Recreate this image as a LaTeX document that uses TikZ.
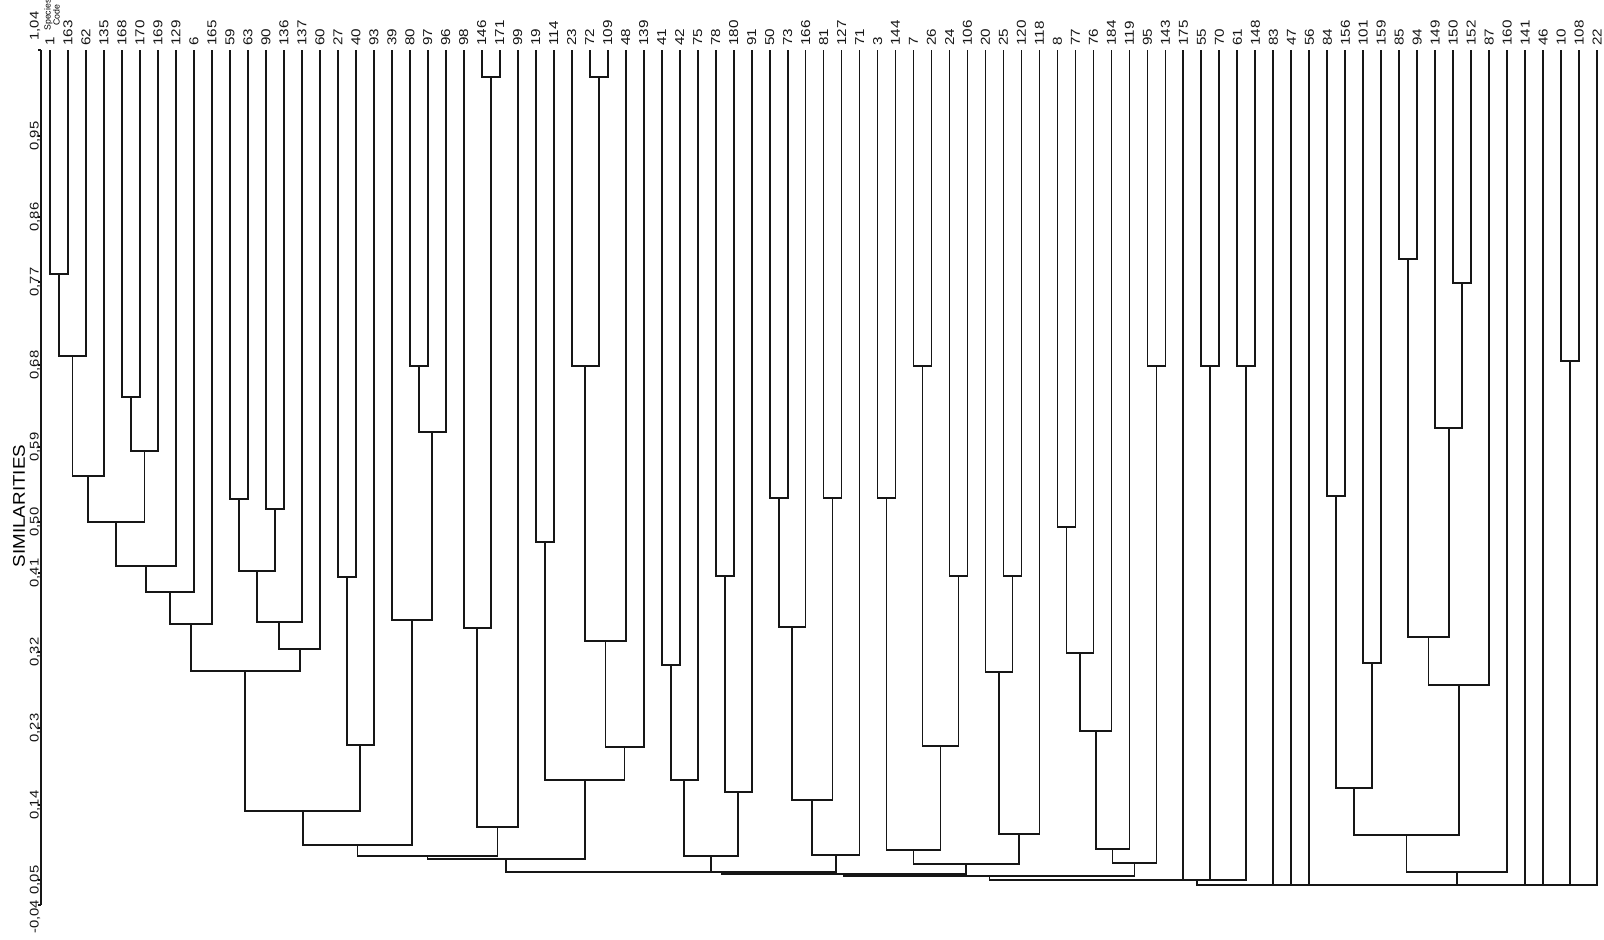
\documentclass[tikz,border=0pt]{standalone}
\usepackage{fontspec}
\setmainfont{Liberation Sans}
\usetikzlibrary{calc}
\definecolor{inkblack}{HTML}{161616}

\tikzset{
  branch/.style={draw=inkblack, line width=0.9pt, line join=miter},
  leaflabel/.style={rotate=90, anchor=west, inner sep=0pt, text=inkblack,
    font=\fontsize{7.6}{8}\selectfont},
  ticklabel/.style={rotate=90, anchor=center, inner sep=0pt, text=inkblack,
    font=\fontsize{7.4}{7.6}\selectfont},
}

% bracket from two stems at height #3, new stem #4 at its middle
\newcommand{\joinpair}[4]{%
  \draw[branch] (#1) -- (#1 |- 0,#3) -- (#2 |- 0,#3) -- (#2);
  \coordinate (#4) at ($(#1 |- 0,#3)!0.5!(#2 |- 0,#3)$);
}

\begin{document}
\begin{tikzpicture}[x=0.5pt, y=-0.5pt]

  % Page
  \fill[white] (0,0) rectangle (1604,939);
  \useasboundingbox (0,0) rectangle (1604,939);

  % Similarity axis
  \draw[branch] (41,50) -- (41,905);
  \foreach \val/\ypos in {1{,}04/26, 0{,}95/136, 0{,}86/217, 0{,}77/282, 0{,}68/365,
      0{,}59/447, 0{,}50/522, 0{,}41/573, 0{,}32/652, 0{,}23/728, 0{,}14/805,
      0{,}05/880, -0{,}04/917} {
    \node[ticklabel] at (35,\ypos) {\scalebox{1}[0.85]{\val}};
  }
  \foreach \ypos in {50,136,217,282,365,447,522,573,652,728,805,880,905} {
    \draw[branch] (38,\ypos) -- (41,\ypos);
  }
  \node[rotate=90, inner sep=0pt, font=\fontsize{9.4}{9.4}\selectfont] (axtitle)
    at (19,506) {\scalebox{1}[0.9]{SIMILARITIES}};
  \node[rotate=90, inner sep=0pt, align=center, font=\fontsize{4.4}{4.6}\selectfont]
    (spcode) at (52,15) {Species\\Code};

  % Leaves
  \foreach \code [count=\i from 0] in {1,163,62,135,168,170,169,129,6,165,
      59,63,90,136,137,60,27,40,93,39,80,97,96,98,146,171,99,19,114,23,
      72,109,48,139,41,42,75,78,180,91,50,73,166,81,127,71,3,144,7,26,
      24,106,20,25,120,118,8,77,76,184,119,95,143,175,55,70,61,148,83,47,
      56,84,156,101,159,85,94,149,150,152,87,160,141,46,10,108,22} {
    \coordinate (s\code) at ({50+17.99*\i},50);
    \node[leaflabel] (lab\code) at ({50+17.99*\i},46) {\scalebox{1}[0.85]{\code}};
  }

  % Group 1 to 165
  \joinpair{s1}{s163}{274}{a1}
  \joinpair{a1}{s62}{356}{a2}
  \joinpair{a2}{s135}{476}{a3}
  \joinpair{s168}{s170}{397}{a4}
  \joinpair{a4}{s169}{451}{a5}
  \joinpair{a3}{a5}{522}{a6}
  \joinpair{a6}{s129}{566}{a7}
  \joinpair{a7}{s6}{592}{a8}
  \joinpair{a8}{s165}{624}{a9}

  % Group 59 to 60
  \joinpair{s59}{s63}{499}{b1}
  \joinpair{s90}{s136}{509}{b2}
  \joinpair{b1}{b2}{571}{b3}
  \joinpair{b3}{s137}{622}{b4}
  \joinpair{b4}{s60}{649}{b5}
  \joinpair{a9}{b5}{671}{ab}
  \joinpair{s27}{s40}{577}{c1}
  \joinpair{c1}{s93}{745}{c2}
  \joinpair{ab}{c2}{811}{ac}

  % Group 39 to 96
  \joinpair{s80}{s97}{366}{d1}
  \joinpair{d1}{s96}{432}{d2}
  \joinpair{s39}{d2}{620}{d3}
  \joinpair{ac}{d3}{845}{ad}

  % Group 98 to 99
  \joinpair{s146}{s171}{77}{e1}
  \joinpair{s98}{e1}{628}{e2}
  \joinpair{e2}{s99}{827}{e3}
  \joinpair{ad}{e3}{856}{ae}

  % Group 19 to 139
  \joinpair{s19}{s114}{542}{f1}
  \joinpair{s72}{s109}{77}{f2}
  \joinpair{s23}{f2}{366}{f3}
  \joinpair{f3}{s48}{641}{f4}
  \joinpair{f4}{s139}{747}{f5}
  \joinpair{f1}{f5}{780}{f6}
  \joinpair{ae}{f6}{859}{af}

  % Group 41 to 91
  \joinpair{s41}{s42}{665}{g1}
  \joinpair{g1}{s75}{780}{g2}
  \joinpair{s78}{s180}{576}{g3}
  \joinpair{g3}{s91}{792}{g4}
  \joinpair{g2}{g4}{856}{g5}

  % Group 50 to 71
  \joinpair{s50}{s73}{498}{h1}
  \joinpair{h1}{s166}{627}{h2}
  \joinpair{s81}{s127}{498}{h3}
  \joinpair{h2}{h3}{800}{h4}
  \joinpair{h4}{s71}{855}{h5}
  \joinpair{af}{g5}{872}{ag}
  \joinpair{ag}{h5}{872}{ah}

  % Group 3 to 106
  \joinpair{s3}{s144}{498}{i1}
  \joinpair{s7}{s26}{366}{i2}
  \joinpair{s24}{s106}{576}{i3}
  \joinpair{i2}{i3}{746}{i4}
  \joinpair{i1}{i4}{850}{i5}

  % Group 20 to 118
  \joinpair{s25}{s120}{576}{j1}
  \joinpair{s20}{j1}{672}{j2}
  \joinpair{j2}{s118}{834}{j3}
  \joinpair{i5}{j3}{864}{ij}
  \joinpair{ah}{ij}{874}{aj}

  % Group 8 to 143
  \joinpair{s8}{s77}{527}{k1}
  \joinpair{k1}{s76}{653}{k2}
  \joinpair{k2}{s184}{731}{k3}
  \joinpair{k3}{s119}{849}{k4}
  \joinpair{s95}{s143}{366}{k5}
  \joinpair{k4}{k5}{863}{k6}
  \joinpair{aj}{k6}{876}{ak}

  % 175 to 148
  \joinpair{s55}{s70}{366}{l1}
  \joinpair{s61}{s148}{366}{l2}
  \joinpair{ak}{s175}{880}{al}
  \joinpair{al}{l1}{880}{am}
  \joinpair{am}{l2}{880}{an}

  % Group 84 to 160
  \joinpair{s84}{s156}{496}{m1}
  \joinpair{s101}{s159}{663}{m2}
  \joinpair{m1}{m2}{788}{m3}
  \joinpair{s85}{s94}{259}{m4}
  \joinpair{s150}{s152}{283}{m5}
  \joinpair{s149}{m5}{428}{m6}
  \joinpair{m4}{m6}{637}{m7}
  \joinpair{m7}{s87}{685}{m8}
  \joinpair{m3}{m8}{835}{m9}
  \joinpair{m9}{s160}{872}{m10}
  \joinpair{s10}{s108}{361}{n1}

  % Lowest level
  \joinpair{an}{s83}{885}{z1}
  \joinpair{z1}{s47}{885}{z2}
  \joinpair{z2}{s56}{885}{z3}
  \joinpair{z3}{m10}{885}{z4}
  \joinpair{z4}{s141}{885}{z5}
  \joinpair{z5}{s46}{885}{z6}
  \joinpair{z6}{n1}{885}{z7}
  \joinpair{z7}{s22}{885}{z8}

\end{tikzpicture}
\end{document}
